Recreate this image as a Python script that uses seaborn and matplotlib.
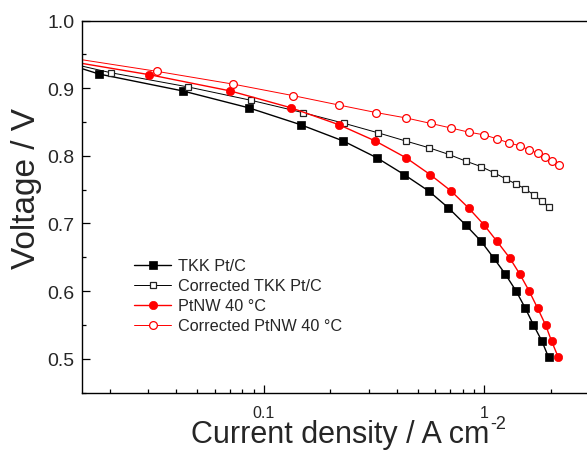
import matplotlib
matplotlib.use("Agg")
import matplotlib.pyplot as plt
import matplotlib.ticker as mticker
import seaborn as sns

sns.set_theme(style="ticks")
plt.rcParams['font.family'] = ['Liberation Sans', 'DejaVu Sans']

# Polarisation data (current density in A cm-2, voltage in V)
tkk_j = [0.012, 0.0179, 0.0429, 0.0855, 0.147, 0.229, 0.326, 0.434, 0.559, 0.687,
         0.821, 0.964, 1.101, 1.244, 1.392, 1.530, 1.668, 1.822, 1.953]
tkk_v = [0.939, 0.921, 0.896, 0.871, 0.846, 0.822, 0.797, 0.772, 0.748, 0.723,
         0.698, 0.674, 0.649, 0.625, 0.600, 0.575, 0.550, 0.526, 0.502]

corr_tkk_j = [0.012, 0.0202, 0.0452, 0.0879, 0.150, 0.232, 0.330, 0.439, 0.560, 0.691,
              0.826, 0.967, 1.105, 1.249, 1.396, 1.535, 1.675, 1.818, 1.961]
corr_tkk_v = [0.940, 0.923, 0.902, 0.882, 0.864, 0.848, 0.834, 0.822, 0.812, 0.802,
              0.792, 0.784, 0.775, 0.766, 0.758, 0.751, 0.742, 0.733, 0.724]

ptnw_j = [0.012, 0.0303, 0.0705, 0.133, 0.219, 0.320, 0.442, 0.569, 0.706, 0.847,
          0.995, 1.137, 1.302, 1.447, 1.595, 1.740, 1.892, 2.015, 2.162]
ptnw_v = [0.942, 0.920, 0.896, 0.871, 0.846, 0.822, 0.797, 0.772, 0.748, 0.723,
          0.698, 0.674, 0.649, 0.625, 0.600, 0.575, 0.550, 0.526, 0.502]

corr_ptnw_j = [0.012, 0.0327, 0.0728, 0.136, 0.220, 0.323, 0.442, 0.570, 0.709, 0.850,
               0.998, 1.144, 1.296, 1.443, 1.590, 1.740, 1.886, 2.026, 2.169]
corr_ptnw_v = [0.947, 0.925, 0.906, 0.889, 0.875, 0.864, 0.856, 0.848, 0.841, 0.835,
               0.831, 0.825, 0.819, 0.815, 0.809, 0.804, 0.798, 0.792, 0.786]

labels = ['TKK Pt/C', 'Corrected TKK Pt/C', 'PtNW 40 \u00b0C', 'Corrected PtNW 40 \u00b0C']

fig = plt.figure(figsize=(5.87, 4.52), dpi=100)
ax = fig.add_axes([82 / 587, (452 - 393.5) / 452, (589.7 - 82) / 587, (393.5 - 21.6) / 452])

# 1. Raw and corrected curves
sns.lineplot(x=tkk_j, y=tkk_v, ax=ax, estimator=None, sort=False, color='black', lw=1.0,
             marker='s', markersize=5.5, mfc='black', mec='black', mew=0.5, label=labels[0])
sns.lineplot(x=corr_tkk_j, y=corr_tkk_v, ax=ax, estimator=None, sort=False, color='black', lw=0.7,
             marker='s', markersize=5.0, mfc='white', mec='#222222', mew=0.9, label=labels[1])
sns.lineplot(x=ptnw_j, y=ptnw_v, ax=ax, estimator=None, sort=False, color='red', lw=1.0,
             marker='o', markersize=6.0, mfc='red', mec='red', mew=0.5, label=labels[2])
sns.lineplot(x=corr_ptnw_j, y=corr_ptnw_v, ax=ax, estimator=None, sort=False, color='red', lw=0.7,
             marker='o', markersize=5.6, mfc='white', mec='red', mew=0.9, label=labels[3])

# 2. Axes, ticks and labels
ax.set_xscale('log')
ax.set_xlim(0.015, 3)
ax.set_ylim(0.45, 1.0)
ax.xaxis.set_major_locator(mticker.FixedLocator([0.1, 1]))
ax.xaxis.set_major_formatter(mticker.FuncFormatter(lambda v, p: f'{v:g}'))
ax.xaxis.set_minor_locator(mticker.LogLocator(base=10, subs=range(2, 10)))
ax.xaxis.set_minor_formatter(mticker.NullFormatter())
ax.yaxis.set_major_locator(mticker.MultipleLocator(0.1))
ax.yaxis.set_minor_locator(mticker.MultipleLocator(0.05))
ax.yaxis.set_major_formatter(mticker.FormatStrFormatter('%.1f'))

ax.tick_params(which='both', direction='in', top=False, right=False, width=0.9, color='black')
ax.tick_params(which='major', length=5.5)
ax.tick_params(which='minor', length=3.1)
ax.tick_params(axis='y', labelsize=14, pad=5.5)
ax.tick_params(axis='x', labelsize=11.5, pad=9.2)
for s in ax.spines.values():
    s.set_linewidth(1.0)
    s.set_color('black')

ax.set_xlabel('Current density / A cm', fontsize=22)
ax.set_ylabel('Voltage / V', fontsize=24)
ax.xaxis.set_label_coords(0.508, -0.071)
ax.yaxis.set_label_coords(-0.078, 0.552)
# superscript of the unit, attached to the end of the x label
ax.annotate('-2', xy=(1, 1), xycoords=ax.xaxis.label, xytext=(1, 2.5),
            textcoords='offset points', ha='left', va='top', fontsize=13)

ax.legend(loc='upper left', bbox_to_anchor=(0.1024, 0.361), frameon=False, fontsize=11.7,
          handlelength=2.3, handletextpad=0.4, labelspacing=0.31, borderpad=0,
          borderaxespad=0, numpoints=1)

fig.savefig('out.png', dpi=100)
plt.close(fig)
